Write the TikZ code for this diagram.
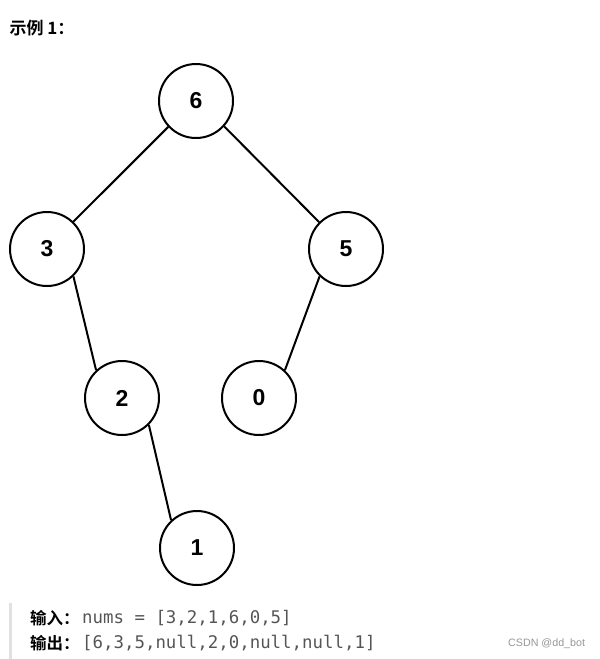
\documentclass[tikz,border=0pt]{standalone}
\usepackage{fontspec}
\setmainfont{Liberation Sans}
\newfontfamily\cjk{Noto Sans CJK SC}[BoldFont={Noto Sans CJK SC Bold}]
\newfontfamily\monof{DejaVu Sans Mono}
\definecolor{codegray}{RGB}{85,85,85}
\definecolor{bargray}{RGB}{225,225,225}
\definecolor{wmgray}{RGB}{150,150,150}
\begin{document}
\begin{tikzpicture}[x=1pt,y=-1pt,
  treenode/.style={circle,draw=black,line width=2pt,minimum size=74pt,inner sep=0pt,
    font=\fontsize{23}{23}\selectfont\bfseries},
  edge/.style={draw=black,line width=2pt}]
\useasboundingbox (0,0) rectangle (600,659);
\node[anchor=west,font=\cjk\fontsize{17}{17}\selectfont\bfseries] (title) at (6,28) {示例 1：};
\node[treenode] (n6) at (196,101) {6};
\node[treenode] (n3) at (47,249) {3};
\node[treenode] (n5) at (346,249) {5};
\node[treenode] (n2) at (122,398) {2};
\node[treenode] (n0) at (259,398) {0};
\node[treenode] (n1) at (197,548) {1};
\draw[edge] (n6.223) -- (n3.46);
\draw[edge] (n6.318) -- (n5.135);
\draw[edge] (n3.314) -- (n2.133);
\draw[edge] (n5.226) -- (n0.47);
\draw[edge] (n2.315) -- (n1.133);
\fill[bargray] (9,603) rectangle (12,659);
\node[anchor=west,inner sep=0pt,font=\cjk\fontsize{16.5}{16.5}\selectfont\bfseries] (in) at (30,618) {输入：};
\node[anchor=west,inner sep=0pt,text=codegray,font=\monof\fontsize{17.4}{17.4}\selectfont] (inv) at (82,618) {nums = [3,2,1,6,0,5]};
\node[anchor=west,inner sep=0pt,font=\cjk\fontsize{16.5}{16.5}\selectfont\bfseries] (out) at (30,643) {输出：};
\node[anchor=west,inner sep=0pt,text=codegray,font=\monof\fontsize{17.4}{17.4}\selectfont] (outv) at (82,643) {[6,3,5,null,2,0,null,null,1]};
\node[anchor=west,inner sep=0pt,text=wmgray,font=\fontsize{10.7}{10.7}\selectfont] (wm) at (508,644) {CSDN @dd\_bot};
\end{tikzpicture}
\end{document}
